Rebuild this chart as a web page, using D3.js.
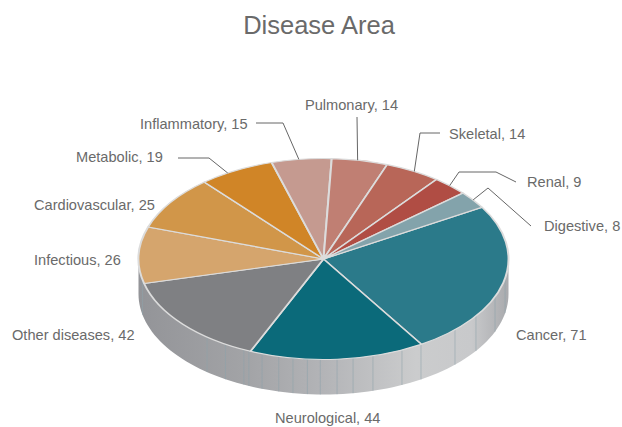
<!DOCTYPE html>
<html><head><meta charset="utf-8">
<script src="https://cdn.jsdelivr.net/npm/d3@7"></script>
<style>html,body{margin:0;padding:0;background:#fff}svg{display:block}text{font-family:"Liberation Sans",Arial,sans-serif;fill:#6a6a6a}</style>
</head><body><svg id="c" width="622" height="427"></svg>
<script>
const categories=["Cancer","Neurological","Other diseases","Infectious","Cardiovascular","Metabolic","Inflammatory","Pulmonary","Skeletal","Renal","Digestive"];
const values=[71,44,42,26,25,19,15,14,14,9,8];
const colors=["#2b7a8a","#0b6a7a","#7f8083","#d5a56d","#d19649","#d08527","#c59a90","#c07f73","#b86658","#b04d44","#83a3ab"];
// label text position and leader elbows, in page pixels
const labelX=[516,275,12,34,34,76,140,305,449,527,544];
const labelY=[339.5,422.5,339.5,264.5,210,161.5,128.5,110,138.5,186.5,231];
const leaders=[null,null,null,null,null,[[209,158],[178,158]],[[283,123],[256,123]],[[357,117]],[[420,133],[440,133]],[[459,172],[496,172],[516,182]],[[488,188],[531,226]]];
const leaderShiftDeg=[0,0,0,0,0,-3,-0.8,-0.7,0.5,-0.3,0];
const seamAngles=[11,22,34.5,44.7,58.2,64.9,74.5,80.8,85.8,91,95,99.5,104,109.4,113.8,115.5,122,129,168];

const cx=323.5,cy=259,rx=185,ry=100.5,depth=35;
const svg=d3.select("#c");
svg.append("text").attr("x",319).attr("y",34).attr("text-anchor","middle").attr("font-size",25.5).text("Disease Area");

const defs=svg.append("defs");
const g=defs.append("linearGradient").attr("id","wall").attr("gradientUnits","userSpaceOnUse")
 .attr("x1",cx-rx).attr("x2",cx+rx).attr("y1",0).attr("y2",0);
[[0,"#939498"],[.3,"#a3a4a7"],[.5,"#b3b4b7"],[.75,"#cbcccd"],[.9,"#c8c9cb"],[1,"#a9aaad"]].forEach(s=>g.append("stop").attr("offset",s[0]).attr("stop-color",s[1]));

const px=a=>cx+rx*Math.sin(a), py=a=>cy-ry*Math.cos(a);
const wallPts=d3.range(0,181,2).map(d=>d*Math.PI/180);
const wallArea=d3.area().x(t=>cx+rx*Math.cos(t)).y0(t=>cy+ry*Math.sin(t)).y1(t=>cy+ry*Math.sin(t)+depth).curve(d3.curveLinear);
svg.append("path").attr("d",wallArea(wallPts)).attr("fill","url(#wall)");
svg.selectAll(".seam").data(seamAngles).join("line").attr("class","seam")
 .attr("x1",d=>cx+rx*Math.cos(d*Math.PI/180)).attr("x2",d=>cx+rx*Math.cos(d*Math.PI/180))
 .attr("y1",d=>cy+ry*Math.sin(d*Math.PI/180)).attr("y2",d=>cy+ry*Math.sin(d*Math.PI/180)+depth)
 .attr("stroke","#8ea3ab").attr("stroke-width",1).attr("opacity",.55);

const pie=d3.pie().sort(null).startAngle(59*Math.PI/180).endAngle((59+360)*Math.PI/180);
const arcs=pie(values);
const topFace=svg.append("g").attr("transform",`translate(${cx},${cy}) scale(1,${ry/rx})`);
const arc=d3.arc().innerRadius(0).outerRadius(rx);
topFace.selectAll("path").data(arcs).join("path").attr("d",arc).attr("fill",(d,i)=>colors[i])
 .attr("stroke","#dcdcdc").attr("stroke-width",2).attr("stroke-linejoin","round");

const line=d3.line();
arcs.forEach((d,i)=>{
  if(!leaders[i])return;
  const m=(d.startAngle+d.endAngle)/2+leaderShiftDeg[i]*Math.PI/180;
  svg.append("path").attr("d",line([[px(m),py(m)],...leaders[i]])).attr("fill","none").attr("stroke","#666").attr("stroke-width",1);
});
svg.selectAll(".lab").data(categories).join("text").attr("class","lab").attr("font-size",14.6)
 .attr("x",(d,i)=>labelX[i]).attr("y",(d,i)=>labelY[i]).text((d,i)=>d+", "+values[i]);
</script></body></html>
